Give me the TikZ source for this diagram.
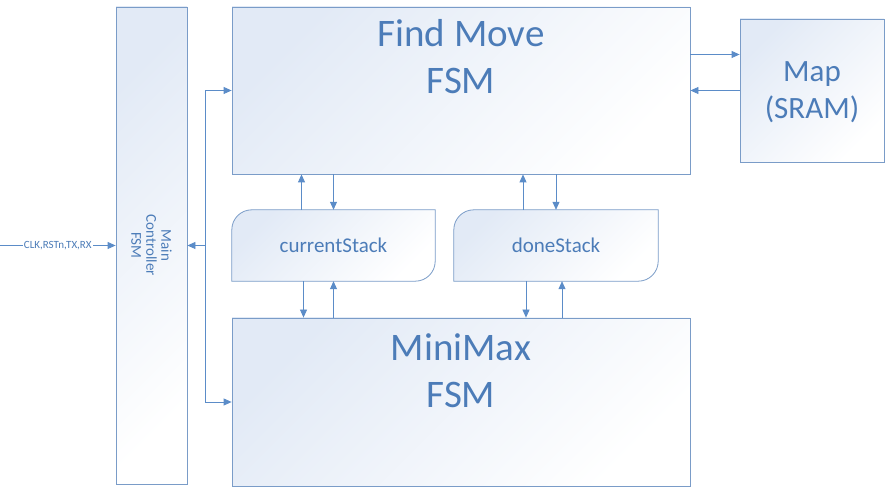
\documentclass[tikz,border=0pt]{standalone}
\usepackage{fontspec}
\setmainfont{Carlito}
\usetikzlibrary{arrows.meta,positioning}
\definecolor{linecol}{RGB}{91,140,200}
\definecolor{boxline}{RGB}{122,156,200}
\definecolor{textcol}{RGB}{76,124,184}
\definecolor{boxfill}{RGB}{226,234,246}
\tikzset{
  block/.style={draw=boxline,line width=0.8pt,top color=boxfill,bottom color=white,
    shading angle=45,minimum width=#1},
  title/.style={text=textcol,align=center,font=\fontsize{39}{47}\selectfont},
  arr/.style={linecol,line width=0.8pt,-{Triangle[length=8pt,width=7pt]}}
}
% stack outline: rounded top left and bottom right corners
\newcommand\stackshape[1]{%
  \path[draw=boxline,line width=0.8pt,top color=boxfill,bottom color=white,shading angle=45]
    (#1.south west) -- ([yshift=-20pt]#1.north west)
    arc[start angle=180,end angle=90,radius=20pt] -- (#1.north east)
    -- ([yshift=20pt]#1.south east)
    arc[start angle=0,end angle=-90,radius=20pt] -- cycle;}
\begin{document}
\begin{tikzpicture}[x=1pt,y=1pt]
\useasboundingbox (0,0) rectangle (886,487);
\node (mc)[block=71pt,minimum height=477pt] at (151.5,241.5) {};
\node (fm)[block=458pt,minimum height=167pt] at (461,396.5) {};
\node (map)[block=144pt,minimum height=143pt] at (812,396.5) {};
\node (mm)[block=458pt,minimum height=168pt] at (461,85) {};
\node (cs)[minimum width=203pt,minimum height=71pt] at (333.5,241.5) {};
\node (ds)[minimum width=204pt,minimum height=71pt] at (556,241.5) {};
\stackshape{cs}
\stackshape{ds}
\node (maptext)[title,font=\fontsize{31}{37}\selectfont] at ([yshift=-2pt]map) {Map\\(SRAM)};
\node (cstext)[text=textcol,font=\fontsize{21}{25}\selectfont] at (cs) {currentStack};
\node (dstext)[text=textcol,font=\fontsize{21}{25}\selectfont] at (ds) {doneStack};
\node (fmtext)[title,anchor=north] at ([yshift=-9pt]fm.north) {Find Move\\FSM};
\node (mmtext)[title,anchor=north] at ([yshift=-13pt]mm.north) {MiniMax\\FSM};
\node (mctext)[text=textcol,align=center,rotate=-90,font=\fontsize{15}{15}\selectfont]
  at (151.5,241.5) {Main\\Controller\\FSM};
% inputs
\coordinate (in) at (0,241.5);
\draw[arr] (in) -- node[fill=white,inner sep=1pt,text=textcol,font=\fontsize{11}{13}\selectfont] (inlabel) {CLK,RSTn,TX,RX} (mc.west);
% bus to both FSMs
\coordinate (bus) at (205,241.5);
\draw[arr] (bus) -- (mc.east);
\draw[arr] (bus) |- (fm.west);
\draw[arr] (bus) |- (mm.west);
% map
\draw[arr] ([yshift=36pt]fm.east) -- ([yshift=36pt]map.west);
\draw[arr] (map.west) -- (fm.east);
% stacks
\draw[arr] ([xshift=-32pt]cs.north) -- ([xshift=-32pt]cs.north |- fm.south);
\draw[arr] (cs.north |- fm.south) -- (cs.north);
\draw[arr] ([xshift=-30pt]cs.south) -- ([xshift=-30pt]cs.south |- mm.north);
\draw[arr] (cs.south |- mm.north) -- (cs.south);
\draw[arr] ([xshift=-33pt]ds.north) -- ([xshift=-33pt]ds.north |- fm.south);
\draw[arr] (ds.north |- fm.south) -- (ds.north);
\draw[arr] ([xshift=-30pt]ds.south) -- ([xshift=-30pt]ds.south |- mm.north);
\draw[arr] ([xshift=6pt]ds.south |- mm.north) -- ([xshift=6pt]ds.south);
\end{tikzpicture}
\end{document}
